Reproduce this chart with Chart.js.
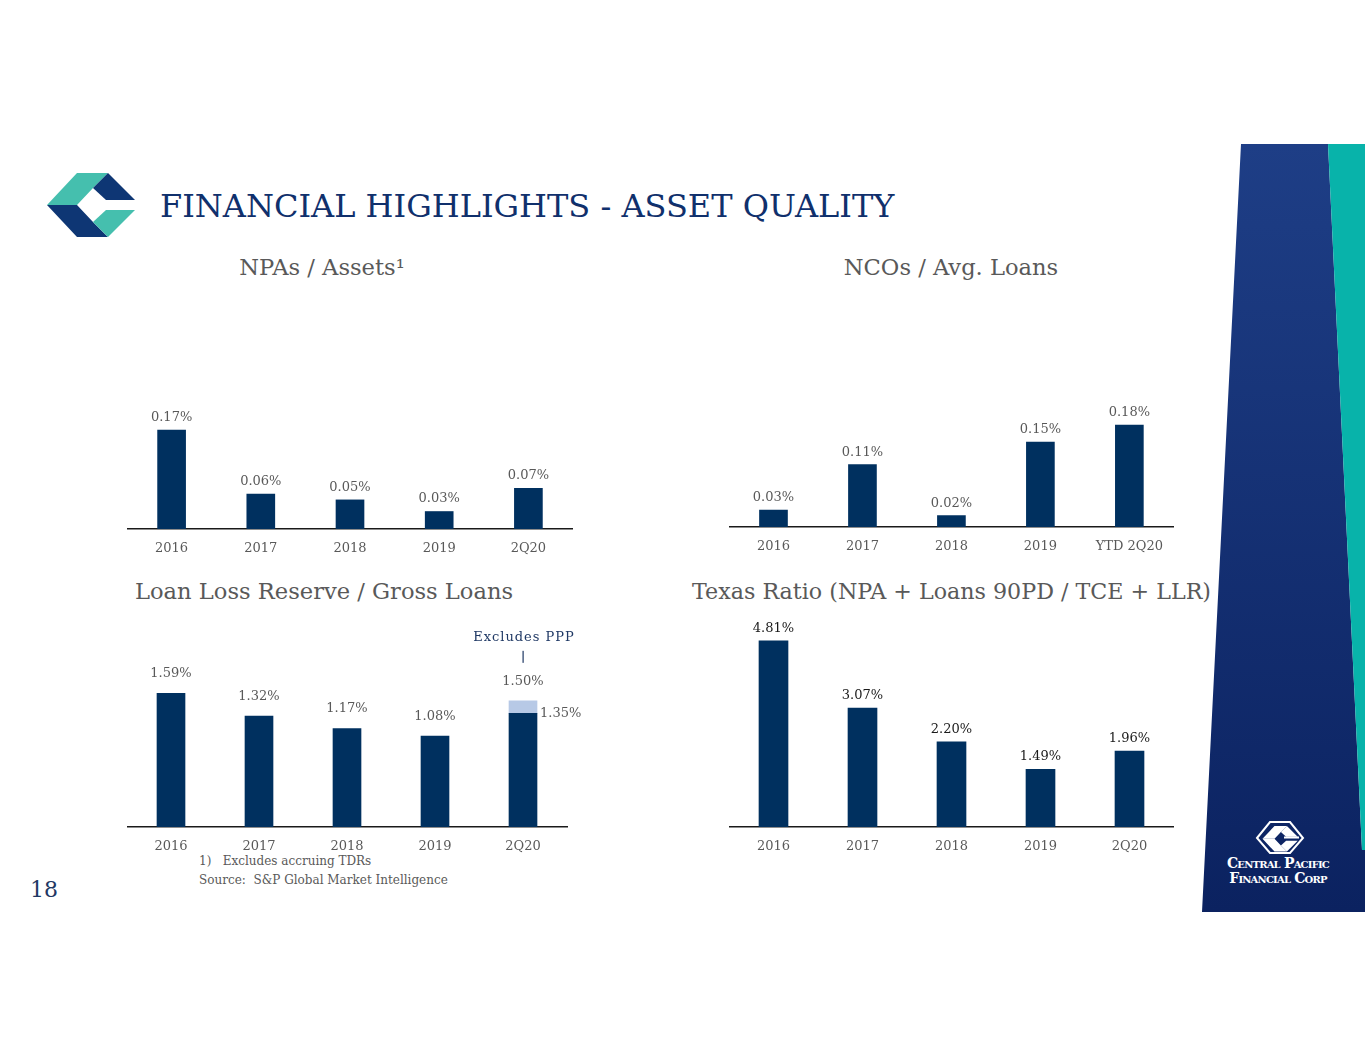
<!DOCTYPE html>
<html>
<head>
<meta charset="utf-8">
<script src="https://cdn.jsdelivr.net/npm/chart.js@4.4.0/dist/chart.umd.min.js"></script>
<style>
  html, body { margin: 0; padding: 0; background: #fff; }
  body { width: 1365px; height: 1055px; position: relative; overflow: hidden; font-family: "DejaVu Serif", serif; }
  .txt { position: absolute; white-space: nowrap; }
  canvas { position: absolute; }
</style>
</head>
<body>

<svg width="1365" height="1055" style="position:absolute;left:0;top:0">
  <defs>
    <linearGradient id="navy" x1="0" y1="0" x2="0" y2="1">
      <stop offset="0" stop-color="#1e3e86"/>
      <stop offset="1" stop-color="#0b2260"/>
    </linearGradient>
  </defs>
  <!-- side panel -->
  <polygon points="1241,144 1328,144 1362,850 1365,850 1365,912 1202,912" fill="url(#navy)"/>
  <polygon points="1328,144 1365,144 1365,850 1362,850" fill="#08b3aa"/>
  <!-- slide logo -->
  <polygon points="47,205 77,173 108,173 93,188 77,205" fill="#45bfae"/>
  <polygon points="108,173 135,200 106,200 93,188" fill="#0e3674"/>
  <polygon points="47,205 77,205 93,222 108,237 77,237" fill="#0e3674"/>
  <polygon points="106,210 135,210 108,237 93,222" fill="#45bfae"/>
  <!-- side logo emblem -->
  <polygon points="1257,838 1270,822 1290,822 1303,838 1290,853 1270,853" fill="none" stroke="#ffffff" stroke-width="2"/>
  <g transform="translate(1262.5,826) scale(0.4) translate(-47,-173)" fill="#ffffff">
    <polygon points="47,205 77,173 108,173 93,188 77,205"/>
    <polygon points="108,173 135,200 106,200 93,188"/>
    <polygon points="47,205 77,205 93,222 108,237 77,237"/>
    <polygon points="106,210 135,210 108,237 93,222"/>
  </g>
  <rect x="1284" y="836.5" width="15" height="2" fill="#ffffff"/>
</svg>

<div class="txt" style="left:160px;top:174px;font-size:32px;line-height:64px;color:#10306c;">FINANCIAL HIGHLIGHTS - ASSET QUALITY</div>
<div class="txt" style="left:172px;width:300px;text-align:center;top:245px;font-size:22.6px;line-height:44px;color:#595959;">NPAs / Assets¹</div>
<div class="txt" style="left:801px;width:300px;text-align:center;top:245px;font-size:22.6px;line-height:44px;color:#595959;">NCOs / Avg. Loans</div>
<div class="txt" style="left:135px;top:569px;font-size:22.6px;line-height:44px;color:#595959;">Loan Loss Reserve / Gross Loans</div>
<div class="txt" style="left:692px;top:569px;font-size:22.2px;line-height:44px;color:#595959;">Texas Ratio (NPA + Loans 90PD / TCE + LLR)</div>
<div class="txt" style="left:199px;top:851px;font-size:12px;line-height:20px;color:#595959;">1)&nbsp;&nbsp;&nbsp;Excludes accruing TDRs</div>
<div class="txt" style="left:199px;top:870px;font-size:12px;line-height:20px;color:#595959;">Source:&nbsp; S&amp;P Global Market Intelligence</div>
<div class="txt" style="left:30px;top:868px;font-size:22px;line-height:44px;color:#1f3864;">18</div>
<div class="txt" style="left:1208px;width:140px;text-align:center;top:856px;font-size:14px;line-height:15px;color:#fff;font-weight:bold;font-variant:small-caps;letter-spacing:-0.8px;">Central Pacific<br>Financial Corp</div>

<canvas id="npaChart" width="446" height="189" style="left:127px;top:370px"></canvas>
<canvas id="ncoChart" width="446" height="187" style="left:729px;top:370px"></canvas>
<canvas id="llrChart" width="480" height="237" style="left:127px;top:620px"></canvas>
<canvas id="texasChart" width="445" height="242" style="left:729px;top:615px"></canvas>

<script>
// Data

var years = ['2016', '2017', '2018', '2019', '2Q20'];
var ncoYears = ['2016', '2017', '2018', '2019', 'YTD 2Q20'];

var npaValues = [0.17, 0.06, 0.05, 0.03, 0.07];
var ncoValues = [0.03, 0.11, 0.02, 0.15, 0.18];
var llrValues = [1.59, 1.32, 1.17, 1.08, 1.35];
var llrExPPP = [null, null, null, null, 1.50];
var texasValues = [4.81, 3.07, 2.20, 1.49, 1.96];

var barColor = '#00305f';
var pppColor = '#b7c9e6';
var font = '"DejaVu Serif", serif';

function pct(v) {
    return v.toFixed(2) + '%';
}

// Labels above bars

var barLabels = {
    id: 'barLabels',
    afterDatasetsDraw: function (chart, args, opts) {
        var ctx = chart.ctx;
        ctx.save();
        ctx.font = '13px ' + font;
        ctx.textAlign = 'center';
        ctx.textBaseline = 'bottom';
        chart.data.datasets.forEach(function (ds, di) {
            var meta = chart.getDatasetMeta(di);
            meta.data.forEach(function (bar, i) {
                var text = ds.labels ? ds.labels[i] : pct(ds.data[i]);
                if (!text) return;
                ctx.fillStyle = opts.color;
                if (ds.sideIndex === i) {
                    ctx.textAlign = 'left';
                    ctx.textBaseline = 'middle';
                    ctx.fillText(text, bar.x + bar.width / 2 + 3, bar.y);
                    ctx.textAlign = 'center';
                    ctx.textBaseline = 'bottom';
                } else {
                    ctx.fillText(text, bar.x, bar.y - opts.offset);
                }
                if (ds.note && ds.note.index === i) {
                    ctx.fillStyle = '#1f3864';
                    ctx.letterSpacing = '1px';
                    ctx.textBaseline = 'middle';
                    ctx.fillText(ds.note.text, bar.x + 1, bar.y - 63);
                    ctx.letterSpacing = '0px';
                    ctx.fillRect(bar.x - 0.5, bar.y - 50, 1.2, 12);
                    ctx.textBaseline = 'bottom';
                }
            });
        });
        ctx.restore();
    }
};

function makeChart(id, labels, datasets, yMax, labelOpts, padRight) {
    return new Chart(document.getElementById(id), {
        type: 'bar',
        data: { labels: labels, datasets: datasets },
        plugins: [barLabels],
        options: {
            responsive: false,
            animation: false,
            devicePixelRatio: 1,
            layout: { padding: { left: 0, top: 0, bottom: 0, right: padRight || 0 } },
            plugins: {
                legend: { display: false },
                tooltip: { enabled: false },
                barLabels: labelOpts
            },
            scales: {
                x: {
                    stacked: true,
                    grid: { display: false, drawTicks: false },
                    border: { display: true, color: '#1a1a1a', width: 1.5 },
                    ticks: { color: '#595959', font: { family: font, size: 13 }, padding: 12 },
                    afterFit: function (s) { s.height = 30; }
                },
                y: {
                    stacked: true,
                    display: false,
                    min: 0,
                    max: yMax
                }
            }
        }
    });
}

makeChart('npaChart', years, [{
    data: npaValues,
    backgroundColor: barColor,
    barThickness: 28
}], 0.273, { color: '#595959', offset: 6 });

makeChart('ncoChart', ncoYears, [{
    data: ncoValues,
    backgroundColor: barColor,
    barThickness: 28
}], 0.277, { color: '#595959', offset: 6 });

makeChart('llrChart', years, [{
    data: llrValues,
    backgroundColor: barColor,
    barThickness: 28,
    sideIndex: 4
}, {
    data: llrExPPP.map(function (v, i) { return v == null ? null : +(v - llrValues[i]).toFixed(2); }),
    labels: llrExPPP.map(function (v) { return v == null ? null : pct(v); }),
    backgroundColor: pppColor,
    barThickness: 28,
    note: { index: 4, text: 'Excludes PPP' }
}], 2.461, { color: '#595959', offset: 13 }, 40);

makeChart('texasChart', years, [{
    data: texasValues,
    backgroundColor: barColor,
    barThickness: 29
}], 5.478, { color: '#1a1a1a', offset: 6 });
</script>
</body>
</html>
